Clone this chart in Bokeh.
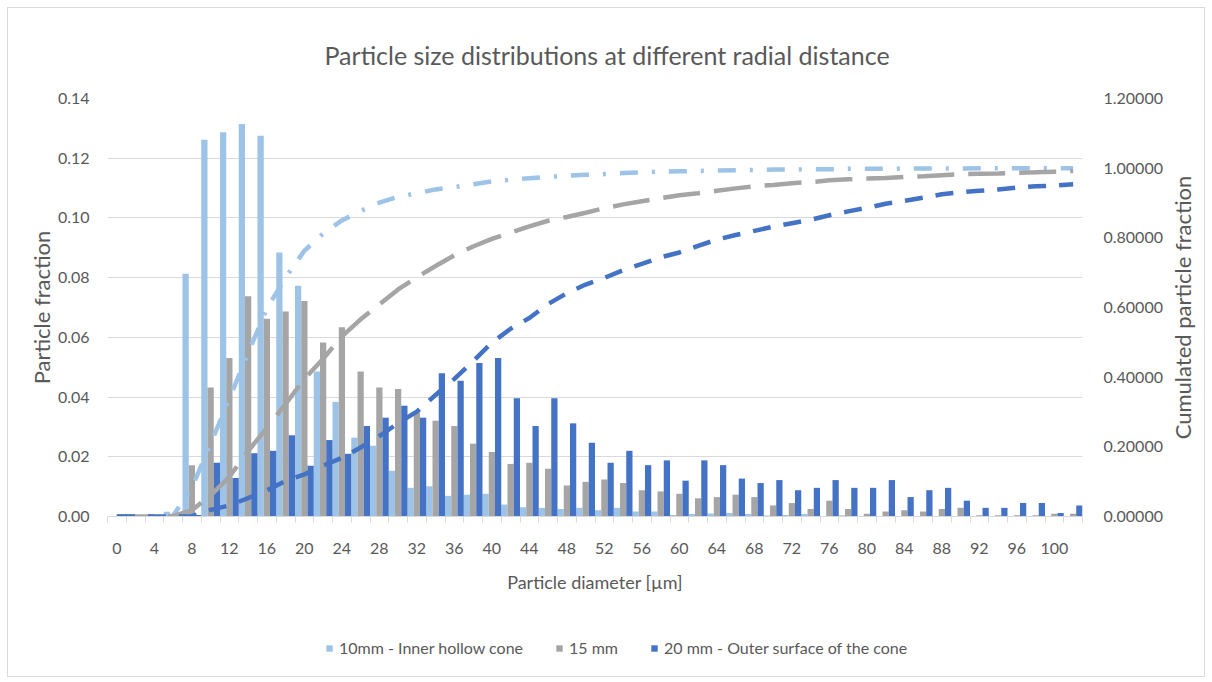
from bokeh.plotting import figure
from bokeh.layouts import column, row
from bokeh.models import (ColumnDataSource, Range1d, LinearAxis, FixedTicker,
                          Legend, LegendItem, PrintfTickFormatter)
from bokeh.transform import dodge
from bokeh.embed import file_html
from bokeh.resources import INLINE

diameters = list(range(0, 104, 2))

frac_10mm = [0, 0, 0.0003, 0.0016, 0.0813, 0.1262, 0.1287, 0.1315, 0.1275, 0.0884,
             0.0773, 0.0486, 0.0384, 0.0264, 0.0237, 0.0153, 0.0096, 0.0101, 0.0069, 0.0073,
             0.0076, 0.0040, 0.0031, 0.0029, 0.0025, 0.0029, 0.0021, 0.0029, 0.0017, 0.0017,
             0.0005, 0.0008, 0.0010, 0.0012, 0.0008, 0.0003, 0.0005, 0.0008, 0.0002, 0.0004,
             0.0002, 0.0001, 0.0001, 0.0001, 0.0001, 0.0001, 0, 0, 0, 0, 0, 0]

frac_15mm = [0, 0, 0, 0.0005, 0.0172, 0.0432, 0.0531, 0.0738, 0.0662, 0.0687,
             0.0722, 0.0583, 0.0634, 0.0486, 0.0432, 0.0427, 0.0348, 0.0321, 0.0303, 0.0244,
             0.0216, 0.0176, 0.0180, 0.0160, 0.0104, 0.0116, 0.0124, 0.0112, 0.0088, 0.0084,
             0.0076, 0.0061, 0.0065, 0.0073, 0.0065, 0.0037, 0.0045, 0.0025, 0.0053, 0.0025,
             0.0009, 0.0017, 0.0021, 0.0017, 0.0025, 0.0029, 0.0004, 0.0004, 0.0004, 0.0004,
             0.0009, 0.0009]

frac_20mm = [0, 0, 0, 0, 0.0005, 0.0180, 0.0129, 0.0212, 0.0220, 0.0272,
             0.0170, 0.0256, 0.0210, 0.0303, 0.0331, 0.0371, 0.0331, 0.0480, 0.0455, 0.0514,
             0.0531, 0.0396, 0.0303, 0.0396, 0.0312, 0.0247, 0.0180, 0.0220, 0.0172, 0.0188,
             0.0120, 0.0188, 0.0172, 0.0127, 0.0112, 0.0122, 0.0088, 0.0096, 0.0122, 0.0096,
             0.0096, 0.0122, 0.0065, 0.0088, 0.0096, 0.0053, 0.0029, 0.0029, 0.0045, 0.0045,
             0.0012, 0.0037]

cum_10mm = [0, 0, 0.0005, 0.002, 0.083, 0.209, 0.338, 0.470, 0.597, 0.686,
            0.763, 0.812, 0.850, 0.877, 0.901, 0.918, 0.928, 0.939, 0.946, 0.954,
            0.962, 0.967, 0.971, 0.975, 0.978, 0.981, 0.983, 0.986, 0.988, 0.990,
            0.991, 0.992, 0.993, 0.994, 0.995, 0.996, 0.996, 0.997, 0.997, 0.998,
            0.998, 0.998, 0.999, 0.999, 0.999, 0.999, 1.0, 1.0, 1.0, 1.0,
            1.0, 1.0]

cum_15mm = [0, 0, 0, 0.001, 0.018, 0.061, 0.114, 0.188, 0.254, 0.323,
            0.395, 0.453, 0.517, 0.566, 0.609, 0.652, 0.687, 0.719, 0.750, 0.775,
            0.797, 0.815, 0.833, 0.849, 0.860, 0.872, 0.885, 0.896, 0.905, 0.914,
            0.922, 0.928, 0.935, 0.942, 0.948, 0.952, 0.957, 0.960, 0.965, 0.968,
            0.970, 0.972, 0.975, 0.977, 0.980, 0.983, 0.984, 0.985, 0.987, 0.988,
            0.990, 0.992]

cum_20mm = [0, 0, 0, 0, 0.001, 0.019, 0.032, 0.053, 0.075, 0.102,
            0.121, 0.146, 0.168, 0.198, 0.231, 0.268, 0.301, 0.349, 0.395, 0.446,
            0.499, 0.539, 0.570, 0.610, 0.641, 0.666, 0.685, 0.707, 0.725, 0.744,
            0.758, 0.777, 0.795, 0.808, 0.820, 0.832, 0.842, 0.852, 0.865, 0.876,
            0.886, 0.898, 0.906, 0.915, 0.925, 0.931, 0.935, 0.939, 0.944, 0.948,
            0.950, 0.954]

x_tick_values = list(range(0, 104, 4))
left_ticks = [0, 0.02, 0.04, 0.06, 0.08, 0.10, 0.12, 0.14]
right_ticks = [0, 0.2, 0.4, 0.6, 0.8, 1.0, 1.2]

series_names = ["10mm - Inner hollow cone", "15 mm", "20 mm - Outer surface of the cone"]
colors = ["#9DC3E6", "#A5A5A5", "#4472C4"]

FONT = "Lato"
TXT = "#595959"
GRID = "#D9D9D9"

src = ColumnDataSource(dict(d=diameters, f10=frac_10mm, f15=frac_15mm, f20=frac_20mm,
                            c10=cum_10mm, c15=cum_15mm, c20=cum_20mm))

p = figure(width=1157, height=610, output_backend="svg", toolbar_location=None,
           x_range=Range1d(-1, 103), y_range=Range1d(0, 0.14),
           min_border_left=99, min_border_right=76, min_border_top=90, min_border_bottom=102)
p.extra_y_ranges = {"cum": Range1d(0, 1.2)}
p.outline_line_color = None
p.background_fill_color = "white"
p.border_fill_color = "white"

p.title.text = "Particle size distributions at different radial distance"
p.title.align = "left"
p.title.offset = 217
p.title.text_font = FONT
p.title.text_font_size = "25px"
p.title.text_font_style = "normal"
p.title.text_color = TXT
p.title.standoff = 57

bw = 2 / 3
p.vbar(x=dodge("d", -bw, range=p.x_range), top="f10", width=bw, source=src,
       fill_color=colors[0], line_color=None)
p.vbar(x="d", top="f15", width=bw, source=src, fill_color=colors[1], line_color=None)
p.vbar(x=dodge("d", bw, range=p.x_range), top="f20", width=bw, source=src,
       fill_color=colors[2], line_color=None)

p.line(x="d", y="c10", source=src, y_range_name="cum", line_color=colors[0],
       line_width=4.5, line_dash="18 14 3 14")
p.line(x="d", y="c15", source=src, y_range_name="cum", line_color=colors[1],
       line_width=4.5, line_dash="37 14")
p.line(x="d", y="c20", source=src, y_range_name="cum", line_color=colors[2],
       line_width=4.5, line_dash="18 13")

# x axis
xa = p.xaxis[0]
xa.ticker = FixedTicker(ticks=x_tick_values, minor_ticks=[v - 1 for v in range(0, 106, 2)])
xa.axis_line_color = GRID
xa.major_tick_line_color = None
xa.minor_tick_line_color = GRID
xa.minor_tick_out = 6
xa.minor_tick_in = 0
xa.major_label_standoff = 20
xa.major_label_text_font = FONT
xa.major_label_text_font_size = "16px"
xa.major_label_text_color = TXT
xa.axis_label = "Particle diameter [µm]"
xa.axis_label_text_font = FONT
xa.axis_label_text_font_size = "18px"
xa.axis_label_text_font_style = "normal"
xa.axis_label_text_color = TXT
xa.axis_label_standoff = 14

# left axis
ya = p.yaxis[0]
ya.ticker = FixedTicker(ticks=left_ticks)
ya.formatter = PrintfTickFormatter(format="%.2f")
ya.axis_line_color = None
ya.major_tick_line_color = None
ya.minor_tick_line_color = None
ya.major_label_standoff = 12
ya.major_label_text_font = FONT
ya.major_label_text_font_size = "16px"
ya.major_label_text_color = TXT
ya.axis_label = "Particle fraction"
ya.axis_label_text_font = FONT
ya.axis_label_text_font_size = "22px"
ya.axis_label_text_font_style = "normal"
ya.axis_label_text_color = TXT
ya.axis_label_standoff = 0

# right axis: cumulated fraction ticks
ra = LinearAxis(y_range_name="cum", ticker=FixedTicker(ticks=right_ticks),
                formatter=PrintfTickFormatter(format="%.5f"))
ra.axis_line_color = None
ra.major_tick_line_color = None
ra.minor_tick_line_color = None
ra.major_label_standoff = 15
ra.major_label_text_font = FONT
ra.major_label_text_font_size = "16px"
ra.major_label_text_color = TXT
p.add_layout(ra, "right")

p.xgrid.grid_line_color = None
p.ygrid.grid_line_color = GRID
p.ygrid.grid_line_width = 1
p.ygrid.ticker = FixedTicker(ticks=left_ticks)

# legend strip below the chart (its key glyphs use the same data, kept off-screen)
q = figure(width=1157, height=58, output_backend="svg", toolbar_location=None,
           x_range=Range1d(1000, 1001), y_range=Range1d(1000, 1001),
           x_axis_type=None, y_axis_type=None, min_border=0)
q.outline_line_color = None
q.xgrid.visible = False
q.ygrid.visible = False
q.background_fill_color = "white"
q.border_fill_color = "white"
key_cols = ["f10", "f15", "f20"]
key_renderers = [q.vbar(x="d", top=c, width=bw, source=src, fill_color=col, line_color=None)
                 for c, col in zip(key_cols, colors)]

legend = Legend(items=[LegendItem(label=n, renderers=[r]) for n, r in zip(series_names, key_renderers)],
                orientation="horizontal", location=(218, 19))
legend.glyph_width = 8
legend.glyph_height = 8
legend.label_standoff = 6
legend.spacing = 32
legend.padding = 0
legend.margin = 0
legend.border_line_color = None
legend.background_fill_alpha = 0
legend.label_text_font = FONT
legend.label_text_font_size = "16px"
legend.label_text_color = TXT
q.add_layout(legend, "center")

# narrow strip at the right holding the secondary axis title (reads bottom to top)
s = figure(width=39, height=668, output_backend="svg", toolbar_location=None,
           x_range=Range1d(0, 1), y_range=Range1d(0, 1), x_axis_type=None,
           min_border_left=28, min_border_right=0, min_border_top=90, min_border_bottom=160)
s.outline_line_color = None
s.xgrid.visible = False
s.ygrid.visible = False
s.background_fill_color = "white"
s.border_fill_color = "white"
sa = s.yaxis[0]
sa.ticker = FixedTicker(ticks=[])
sa.axis_line_color = None
sa.major_tick_line_color = None
sa.minor_tick_line_color = None
sa.major_label_text_font_size = "0px"
sa.major_label_standoff = 0
sa.axis_label = "Cumulated particle fraction"
sa.axis_label_text_font = FONT
sa.axis_label_text_font_size = "22px"
sa.axis_label_text_font_style = "normal"
sa.axis_label_text_color = TXT
sa.axis_label_standoff = 0

layout = row(column(p, q, spacing=0), s, spacing=0)
layout.styles = {"margin-left": "7px", "margin-top": "7px", "border": "1px solid #D9D9D9"}

open("out.html", "w").write(file_html(layout, INLINE))
